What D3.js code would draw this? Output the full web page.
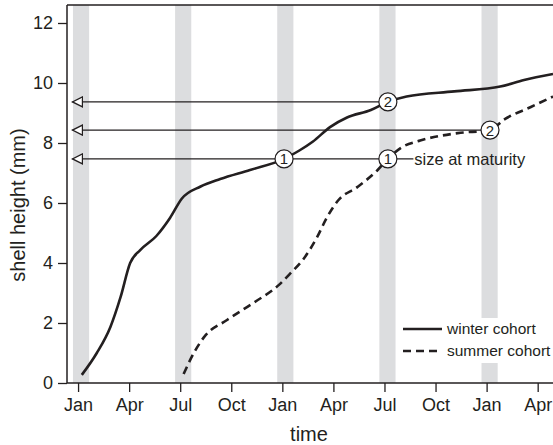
<!DOCTYPE html>
<html>
<head>
<meta charset="utf-8">
<script src="https://cdnjs.cloudflare.com/ajax/libs/d3/7.8.5/d3.min.js"></script>
<style>
  body { margin: 0; background: #fff; }
  svg text { font-family: "Liberation Sans", Arial, sans-serif; fill: #231f20; }
</style>
</head>
<body>
<svg id="chart" width="553" height="445"></svg>
<script>
// months counted from the first Jan (0 = Jan, 3 = Apr, ...)
const tickMonths = [0, 3, 6, 9, 12, 15, 18, 21, 24, 27]
const tickLabels = ['Jan', 'Apr', 'Jul', 'Oct', 'Jan', 'Apr', 'Jul', 'Oct', 'Jan', 'Apr']
const yTicks = [0, 2, 4, 6, 8, 10, 12]

// grey winter/summer bands (start month)
const bandMonths = [0, 6, 12, 18, 24]

// winter cohort, solid line
const winterMonths = [0.22, 1.1, 1.9, 2.5, 3.06, 3.65, 4.6, 5.4, 6.1, 7.2, 8.35, 10.1, 12.1, 13.0, 13.8, 14.8, 15.8, 17.2, 18.2, 19.3, 22.1, 24.8, 26.2, 27.9]
const winterValues = [0.27, 1.0, 1.87, 2.87, 4.0, 4.43, 4.9, 5.5, 6.15, 6.55, 6.8, 7.1, 7.47, 7.75, 8.05, 8.53, 8.85, 9.1, 9.37, 9.55, 9.72, 9.88, 10.1, 10.3]

// summer cohort, dashed line
const summerMonths = [6.2, 6.8, 7.4, 8.75, 10.3, 11.8, 12.5, 13.2, 14.05, 14.6, 15.3, 16.4, 17.6, 18.2, 19.0, 20.1, 22.3, 24.2, 25.0, 26.6, 27.9]
const summerValues = [0.3, 1.0, 1.53, 2.1, 2.67, 3.27, 3.67, 4.1, 4.87, 5.5, 6.1, 6.53, 7.1, 7.47, 7.85, 8.08, 8.33, 8.43, 8.77, 9.2, 9.55]

// size at maturity markers: level, month of the circle, label
const markLevels = [7.47, 7.47, 9.37, 8.43]
const markMonths = [12.1, 18.2, 18.2, 24.2]
const markLabels = ['1', '1', '2', '2']
// arrow lines running back to the y axis
const arrowLevels = [9.37, 8.43, 7.47]
const arrowEndMonths = [18.2, 24.2, 19.7]

const svg = d3.select('#chart')
const margin = {left: 67, top: 5, right: 0, bottom: 62}
const W = 553, H = 445
const ink = '#231f20'

const x = d3.scaleLinear().domain([-0.65, 27.9]).range([margin.left, W - margin.right])
const y = d3.scaleLinear().domain([0, 12.6]).range([H - margin.bottom, margin.top])

// bands
svg.selectAll('.band')
  .data(bandMonths)
  .join('rect')
    .attr('class', 'band')
    .attr('x', d => x(d - 0.3))
    .attr('width', d => x(d + 0.65) - x(d - 0.3))
    .attr('y', y(12.6))
    .attr('height', y(0) - y(12.6))
    .attr('fill', '#dcdddf')

// legend background hides the band behind it
svg.append('rect')
  .attr('x', 398).attr('y', 318)
  .attr('width', 155).attr('height', 45)
  .attr('fill', '#fff')

// frame top line
svg.append('line')
  .attr('x1', x(-0.65)).attr('x2', W)
  .attr('y1', y(12.6)).attr('y2', y(12.6))
  .attr('stroke', ink).attr('stroke-width', 1.5)

// axes
const xAxis = svg.append('g')
  .attr('transform', 'translate(0,' + y(0) + ')')
  .call(d3.axisBottom(x).tickValues(tickMonths).tickFormat((d, i) => tickLabels[i]).tickSize(9).tickPadding(6))
const yAxis = svg.append('g')
  .attr('transform', 'translate(' + margin.left + ',0)')
  .call(d3.axisLeft(y).tickValues(yTicks).tickSize(9).tickPadding(5))

for (const g of [xAxis, yAxis]) {
  g.select('.domain').attr('stroke', ink).attr('stroke-width', 1.5)
  g.selectAll('.tick line').attr('stroke', ink).attr('stroke-width', 1.3)
  g.selectAll('.tick text').attr('font-size', 18).attr('fill', ink)
    .attr('font-family', '"Liberation Sans", Arial, sans-serif')
}
xAxis.select('.domain').attr('d', 'M' + x(-0.65) + ',0H' + W)
yAxis.select('.domain').attr('d', 'M0,' + y(0) + 'V' + y(12.6))

// axis titles
svg.append('text')
  .attr('x', 309).attr('y', 441)
  .attr('text-anchor', 'middle')
  .attr('font-size', 20)
  .text('time')
svg.append('text')
  .attr('transform', 'translate(25,205) rotate(-90)')
  .attr('text-anchor', 'middle')
  .attr('font-size', 20)
  .text('shell height (mm)')

// arrow head marker (open triangle), tip at the end of the line
svg.append('defs').append('marker')
  .attr('id', 'arrowhead')
  .attr('viewBox', '0 0 12 12')
  .attr('refX', 11).attr('refY', 6)
  .attr('markerWidth', 12).attr('markerHeight', 12)
  .attr('markerUnits', 'userSpaceOnUse')
  .attr('orient', 'auto')
  .append('path')
    .attr('d', 'M1,1 L11,6 L1,11 Z')
    .attr('fill', '#fff').attr('stroke', ink).attr('stroke-width', 1.3)

svg.selectAll('.arrow')
  .data(arrowLevels)
  .join('line')
    .attr('class', 'arrow')
    .attr('x1', (d, i) => x(arrowEndMonths[i]))
    .attr('x2', x(-0.33))
    .attr('y1', d => y(d)).attr('y2', d => y(d))
    .attr('stroke', ink).attr('stroke-width', 1.4)
    .attr('marker-end', 'url(#arrowhead)')

svg.append('text')
  .attr('x', x(19.75)).attr('y', y(7.47))
  .attr('dy', '0.35em')
  .attr('font-size', 16.5)
  .text('size at maturity')

// cohort curves
const line = d3.line()
  .x(d => x(d[0]))
  .y(d => y(d[1]))
  .curve(d3.curveMonotoneX)

svg.append('path')
  .datum(d3.zip(winterMonths, winterValues))
  .attr('fill', 'none').attr('stroke', ink).attr('stroke-width', 2.6)
  .attr('d', line)

svg.append('path')
  .datum(d3.zip(summerMonths, summerValues))
  .attr('fill', 'none').attr('stroke', ink).attr('stroke-width', 2.6)
  .attr('stroke-dasharray', '8,5')
  .attr('d', line)

// numbered circles
const marks = svg.selectAll('.mark')
  .data(markLevels)
  .join('g')
    .attr('class', 'mark')
    .attr('transform', (d, i) => 'translate(' + x(markMonths[i]) + ',' + y(d) + ')')
marks.append('circle')
  .attr('r', 9)
  .attr('fill', '#fff').attr('stroke', ink).attr('stroke-width', 1.2)
marks.append('text')
  .attr('text-anchor', 'middle').attr('dy', '0.36em')
  .attr('font-size', 15)
  .text((d, i) => markLabels[i])

// legend
const legendNames = ['winter cohort', 'summer cohort']
const legendDash = ['none', '8,5']
const legend = svg.selectAll('.legend')
  .data(legendNames)
  .join('g')
    .attr('class', 'legend')
    .attr('transform', (d, i) => 'translate(403,' + (329 + i * 22) + ')')
legend.append('line')
  .attr('x1', 0).attr('x2', 39)
  .attr('stroke', ink).attr('stroke-width', 2.4)
  .attr('stroke-dasharray', (d, i) => legendDash[i])
legend.append('text')
  .attr('x', 44).attr('dy', '0.35em')
  .attr('font-size', 15.5)
  .text(d => d)
</script>
</body>
</html>
